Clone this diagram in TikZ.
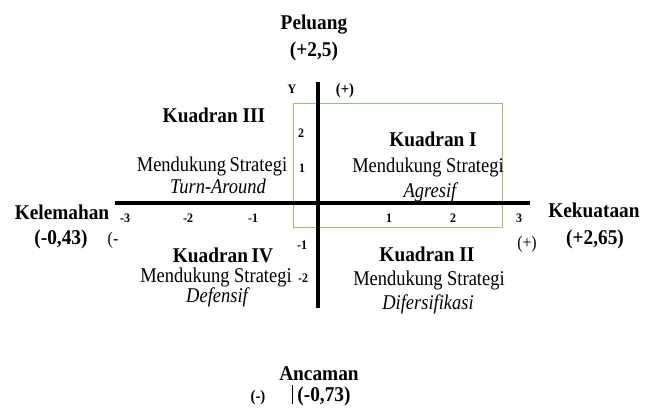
\documentclass[tikz,border=0pt]{standalone}
\usepackage{fontspec}
\setmainfont{Liberation Serif}[FakeStretch=0.92]
\newfontfamily\regf{Liberation Serif}[FakeStretch=0.88]
\definecolor{boxgreen}{RGB}{150,192,110}
\begin{document}
\begin{tikzpicture}[x=1pt,y=-1pt,
  bl/.style={font=\bfseries\fontsize{21}{23}\selectfont, inner sep=0pt, anchor=base},
  rg/.style={font=\regf\fontsize{21}{23}\selectfont, inner sep=0pt, anchor=base},
  itl/.style={font=\regf\itshape\fontsize{21}{23}\selectfont, inner sep=0pt, anchor=base},
  tk/.style={font=\bfseries\fontsize{13}{15}\selectfont, inner sep=0pt, anchor=base},
  sg/.style={font=\bfseries\fontsize{16}{18}\selectfont, inner sep=0pt, anchor=base},
  sr/.style={font=\regf\fontsize{18}{20}\selectfont, inner sep=0pt, anchor=base},
  axis/.style={line width=3.5pt, black},
  quadbox/.style={draw=boxgreen, line width=1pt}]
\useasboundingbox (0,0) rectangle (653,408);
% axes
\coordinate (vt) at (318,82);
\coordinate (vb) at (318,308);
\coordinate (hl) at (115,203);
\coordinate (hr) at (530,203);
\draw[quadbox] (293,103) rectangle (502,227);
\draw[axis] (vt) -- (vb);
\draw[axis] (hl) -- (hr);
% top
\node[bl] (pel) at (314,29) {Peluang};
\node[bl] (pelv) at (314,56) {(+2,5)};
\node[tk] (ylab) at (292,93) {Y};
\node[sg] (yplus) at (345,94) {(+)};
% quadrant III
\node[bl] (k3) at (214,122) {Kuadran III};
\node[rg] (m3) at (212,171) {Mendukung\,Strategi};
\node[itl] (s3) at (218,193) {Turn-Around};
% quadrant I
\node[bl] (k1) at (433,146) {Kuadran I};
\node[rg] (m1) at (428,172) {Mendukung Strategi};
\node[itl] (s1) at (430,197) {Agresif};
% y ticks
\node[tk] (t2) at (301,137) {2};
\node[tk] (t1) at (302,172) {1};
\node[tk] (tm1) at (302,249) {-1};
% x ticks
\node[tk] (xm3) at (125,222) {-3};
\node[tk] (xm2) at (188,222) {-2};
\node[tk] (xm1) at (253,222) {-1};
\node[tk] (x1) at (389,222) {1};
\node[tk] (x2) at (453,222) {2};
\node[tk] (x3) at (519,222) {3};
% left / right
\node[bl] (kel) at (62,219) {Kelemahan};
\node[bl] (kelv) at (61,244) {(-0,43)};
\node[sr] (kelm) at (113,244) {(-};
\node[bl] (kek) at (594,217) {Kekuataan};
\node[bl] (kekv) at (595,244) {(+2,65)};
\node[sr] (kekp) at (527,248) {(+)};
% quadrant IV
\node[bl] (k4) at (223,262) {Kuadran\,IV};
\node[rg] (m4) at (216,282) {Mendukung Strategi};
\node[tk] (tm2) at (303,282) {-2};
\node[itl] (s4) at (217,302) {Defensif};
% quadrant II
\node[bl] (k2) at (427,261) {Kuadran II};
\node[rg] (m2) at (429,285) {Mendukung Strategi};
\node[itl] (s2) at (428,309) {Difersifikasi};
% bottom
\node[bl] (anc) at (319,380) {Ancaman};
\node[sg] (ancm) at (258,401) {(-)};
\node[bl] (ancv) at (324,401) {(-0,73)};
\coordinate (bart) at (292,385);
\coordinate (barb) at (292,404);
\draw[line width=0.6pt] (bart) -- (barb);
\end{tikzpicture}
\end{document}
